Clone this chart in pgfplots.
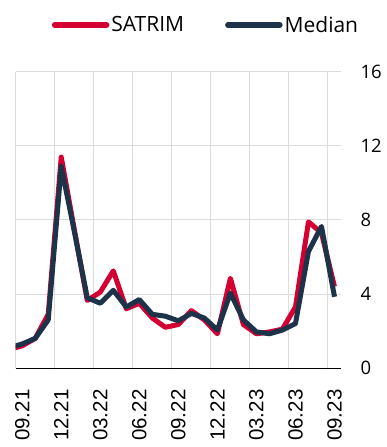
\documentclass[border=0pt]{standalone}
\usepackage{pgfplots}
\pgfplotsset{compat=1.18}
\usepackage{fontspec}
\setmainfont{Open Sans}
\newfontfamily\xfont{Liberation Sans}
\definecolor{satrim}{HTML}{D50032}
\definecolor{median}{HTML}{1D3349}
\definecolor{gridc}{HTML}{DCDCDC}

\begin{document}
\begin{tikzpicture}
\begin{axis}[
 at={(0,0)}, anchor=south west,
 scale only axis, width=325.3pt, height=296pt,
 xmin=0, xmax=25, ymin=0, ymax=16,
 axis x line*=bottom, axis y line*=right,
 y axis line style={draw=none},
 x axis line style={black, line width=0.8pt, -},
 xtick={0.5,3.5,...,24.5},
 xticklabels={09.21,12.21,03.22,06.22,09.22,12.22,03.23,06.23,09.23},
 extra x ticks={0,3,...,24},
 extra x tick labels={},
 extra x tick style={grid=major, major tick length=0pt},
 major tick length=0pt,
 ytick={0,4,8,12,16},
 ymajorgrids,
 grid style={gridc, line width=1pt},
 /pgf/number format/assume math mode=true,
 xticklabel shift=18pt,
 x tick label style={rotate=90, anchor=east, font=\xfont\fontsize{20.5}{20.5}\selectfont},
 y tick label style={font=\fontsize{18.5}{18.5}\selectfont, anchor=west, xshift=16pt},
 legend style={at={(0.585,1.159)}, anchor=center, draw=none, fill=none, legend columns=2,
   font=\fontsize{21}{21}\selectfont, inner sep=0pt,
   /tikz/every even column/.append style={column sep=39pt}},
 legend cell align=left,
 legend image code/.code={\draw[#1, line width=5.5pt, line cap=round] (0pt,0pt) -- (52pt,0pt);},
]
\addplot[satrim, line width=5pt, line join=round] coordinates {
(-0.5,1.0) (0.5,1.2) (1.5,1.6) (2.5,2.9) (3.5,11.4) (4.5,7.5) (5.5,3.65) (6.5,4.1)
(7.5,5.25) (8.5,3.2) (9.5,3.5) (10.5,2.7) (11.5,2.2) (12.5,2.35) (13.5,3.1) (14.5,2.6)
(15.5,1.85) (16.5,4.85) (17.5,2.35) (18.5,1.85) (19.5,1.95) (20.5,2.1) (21.5,3.3)
(22.5,7.9) (23.5,7.3) (24.5,4.4)
};
\addplot[median, line width=5pt, line join=round] coordinates {
(-0.5,1.1) (0.5,1.3) (1.5,1.6) (2.5,2.6) (3.5,10.9) (4.5,7.4) (5.5,3.8) (6.5,3.5)
(7.5,4.2) (8.5,3.3) (9.5,3.7) (10.5,2.9) (11.5,2.8) (12.5,2.55) (13.5,2.95) (14.5,2.7)
(15.5,2.05) (16.5,4.05) (17.5,2.6) (18.5,1.95) (19.5,1.85) (20.5,2.05) (21.5,2.4)
(22.5,6.3) (23.5,7.65) (24.5,3.85)
};
\legend{SATRIM, Median}
\end{axis}
\pgfresetboundingbox
\path[use as bounding box] (-15.7pt,-79pt) rectangle (370.3pt,368pt);
\end{tikzpicture}
\end{document}
